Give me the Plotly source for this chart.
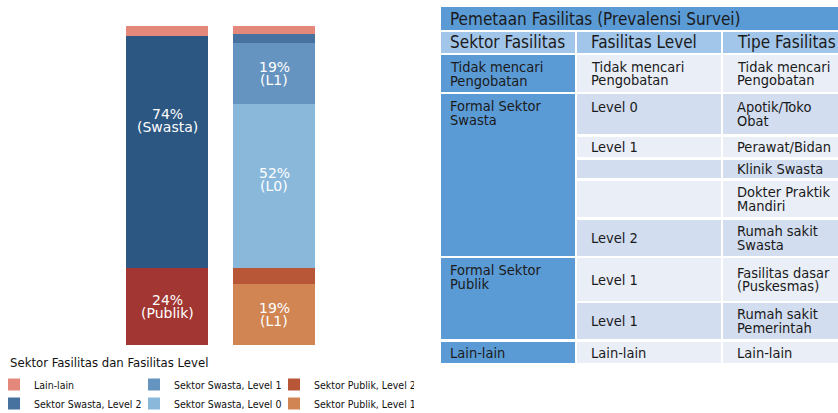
import plotly.graph_objects as go

W, H = 838, 413
PLOT_W = 430  # plotting area width; the table lives in the right margin

# ---------------- data: stacked bars ----------------
bar_cats = ["Sektor Fasilitas", "Fasilitas Level"]

sektor_names = ["Sektor Publik", "Sektor Swasta"]
sektor_values = [24.2, 72.8]
sektor_labels = ["24%<br>(Publik)", "74%<br>(Swasta)"]

level_names = ["Sektor Publik, Level 1", "Sektor Publik, Level 2",
               "Sektor Swasta, Level 0", "Sektor Swasta, Level 1",
               "Sektor Swasta, Level 2"]
level_values = [19.1, 5.1, 51.5, 19.0, 2.9]
level_labels = ["19%<br>(L1)", "", "52%<br>(L0)", "19%<br>(L1)", ""]

lain_name = "Lain-lain"
lain_values = [3.0, 2.3]

legend_title = "Sektor Fasilitas dan Fasilitas Level"

# ---------------- data: table ----------------
table_title = "Pemetaan Fasilitas (Prevalensi Survei)"
table_headers = ["Sektor Fasilitas", "Fasilitas Level", "Tipe Fasilitas"]
sektor_cells = ["Tidak mencari<br>Pengobatan", "Formal Sektor<br>Swasta",
                "Formal Sektor<br>Publik", "Lain-lain"]
sektor_spans = [1, 5, 2, 1]
level_cells = ["Tidak mencari<br>Pengobatan", "Level 0", "Level 1", "", "",
               "Level 2", "Level 1", "Level 1", "Lain-lain"]
tipe_cells = ["Tidak mencari<br>Pengobatan", "Apotik/Toko<br>Obat", "Perawat/Bidan",
              "Klinik Swasta", "Dokter Praktik<br>Mandiri", "Rumah sakit<br>Swasta",
              "Fasilitas dasar<br>(Puskesmas)", "Rumah sakit<br>Pemerintah", "Lain-lain"]

# ---------------- styles / layout ----------------
sektor_colors = ["#a13633", "#2c5782"]
level_colors = ["#d08553", "#b85737", "#8ab8db", "#6594c0", "#47719f"]
lain_color = "#e3887b"
level_rank = [6, 3, 5, 2, 4]
sektor_label_shift = [0, 31]
level_label_shift = [0, 0, 6, 0, 0]

FONT = "DejaVu Sans Condensed, DejaVu Sans, sans-serif"
BAR_FONT = "DejaVu Sans, sans-serif"

title_fill = "#5b9bd5"
header_fill = "#a2c6e9"
sektor_fill = "#5b9bd5"
row_fills = ["#e9eef7", "#d2ddef"]
text_color = "#1a1a1a"

col_bounds = [(441, 575), (577, 721), (723, 870)]
col_pad = [7, 12, 12]
title_bounds = (7, 30)
header_bounds = (32, 53)
row_bounds = [(55, 92), (94, 134), (137, 157), (160, 178), (181, 217),
              (220, 256), (258, 301), (303, 339), (342, 363)]
level_valign = ["middle", "top", "middle", "middle", "middle",
                "middle", "middle", "middle", "middle"]
LINE_H = 13.5
CELL_SIZE = 14.5


def px(x):
    return x / PLOT_W


def py(y):
    return 1 - y / H


fig = go.Figure()

# bar 1 (sector)
for name, val, col in zip(sektor_names, sektor_values, sektor_colors):
    fig.add_trace(go.Bar(x=[bar_cats[0]], y=[val], name=name, marker_color=col,
                         marker_line_width=0, showlegend=False, hoverinfo="skip"))
# bar 2 (levels)
for name, val, col, rk in zip(level_names, level_values, level_colors, level_rank):
    fig.add_trace(go.Bar(x=[bar_cats[1]], y=[val], name=name, marker_color=col,
                         marker_line_width=0, legendrank=rk, hoverinfo="skip"))
# Lain-lain on top of both
fig.add_trace(go.Bar(x=bar_cats, y=lain_values, name=lain_name, marker_color=lain_color,
                     marker_line_width=0, legendrank=1, hoverinfo="skip"))

annotations = []


def bar_labels(cat, values, labels, shifts):
    base = 0
    for v, lab, sh in zip(values, labels, shifts):
        mid = base + v / 2
        base += v
        if not lab:
            continue
        lines = lab.split("<br>")
        n = len(lines)
        for i, ln in enumerate(lines):
            annotations.append(dict(
                x=cat, y=mid, xref="x", yref="y", text=ln, showarrow=False,
                xanchor="center", yanchor="middle",
                yshift=sh + ((n - 1) / 2 - i) * 13,
                font=dict(family=BAR_FONT, size=14, color="white")))


bar_labels(bar_cats[0], sektor_values, sektor_labels, sektor_label_shift)
bar_labels(bar_cats[1], level_values, level_labels, level_label_shift)

shapes = []


def rect(x0, x1, y0, y1, fill):
    shapes.append(dict(type="rect", xref="paper", yref="paper",
                       x0=px(x0), x1=px(x1), y0=py(y1), y1=py(y0),
                       fillcolor=fill, line=dict(width=0), layer="below"))


def text_lines(x, first_center, txt, size, color=text_color):
    for i, ln in enumerate(txt.split("<br>")):
        annotations.append(dict(
            x=px(x), y=py(first_center + i * LINE_H), xref="paper", yref="paper",
            text=ln, showarrow=False, xanchor="left", yanchor="middle",
            font=dict(family=FONT, size=size, color=color)))


def centered_first(bounds, txt):
    n = len(txt.split("<br>"))
    return (bounds[0] + bounds[1]) / 2 - (n - 1) / 2 * LINE_H


# title bar
rect(col_bounds[0][0], col_bounds[2][1], *title_bounds, title_fill)
text_lines(col_bounds[0][0] + col_pad[0], sum(title_bounds) / 2, table_title, 17)
# headers
for (cx0, cx1), pad, htxt in zip(col_bounds, col_pad, table_headers):
    rect(cx0, cx1, *header_bounds, header_fill)
    text_lines(cx0 + pad, sum(header_bounds) / 2, htxt, 17)

# sector column (merged cells)
r = 0
for txt, span in zip(sektor_cells, sektor_spans):
    top = row_bounds[r][0]
    bot = row_bounds[r + span - 1][1]
    rect(col_bounds[0][0], col_bounds[0][1], top, bot, sektor_fill)
    first = top + 12 if span > 1 or "<br>" in txt else (top + bot) / 2
    text_lines(col_bounds[0][0] + col_pad[0], first, txt, CELL_SIZE)
    r += span

# level + tipe columns
for i, (b, lv, tp, va) in enumerate(zip(row_bounds, level_cells, tipe_cells, level_valign)):
    fill = row_fills[i % 2]
    rect(col_bounds[1][0], col_bounds[1][1], b[0], b[1], fill)
    rect(col_bounds[2][0], col_bounds[2][1], b[0], b[1], fill)
    tp_first = centered_first(b, tp)
    text_lines(col_bounds[2][0] + col_pad[2], tp_first, tp, CELL_SIZE)
    if lv:
        lv_first = tp_first if va == "top" else centered_first(b, lv)
        text_lines(col_bounds[1][0] + col_pad[1], lv_first, lv, CELL_SIZE)

# legend title placed as a text label above the legend rows
annotations.append(dict(x=px(8), y=py(362), xref="paper", yref="paper",
                        text=legend_title, showarrow=False, xanchor="left",
                        yanchor="middle",
                        font=dict(family=FONT, size=13, color="#111")))

fig.update_layout(
    width=W, height=H,
    margin=dict(l=0, r=W - PLOT_W, t=0, b=0, autoexpand=False),
    paper_bgcolor="white", plot_bgcolor="white",
    barmode="stack", bargap=0.234,
    xaxis=dict(domain=[113.5 / PLOT_W, 327.5 / PLOT_W], range=[-0.5, 1.5],
               visible=False, type="category"),
    yaxis=dict(domain=[68 / H, 387 / H], range=[0, 100], visible=False),
    shapes=shapes, annotations=annotations,
    showlegend=True,
    legend=dict(orientation="h", x=-6 / PLOT_W, xanchor="left", y=py(370),
                yanchor="top",
                font=dict(family=FONT, size=10.5, color="#111"),
                entrywidth=95, bgcolor="rgba(0,0,0,0)", traceorder="normal",
                tracegroupgap=0),
    font=dict(family=FONT),
)

fig.write_html("out.html", post_script="document.body.style.margin='0';",
               config={"displayModeBar": False})
